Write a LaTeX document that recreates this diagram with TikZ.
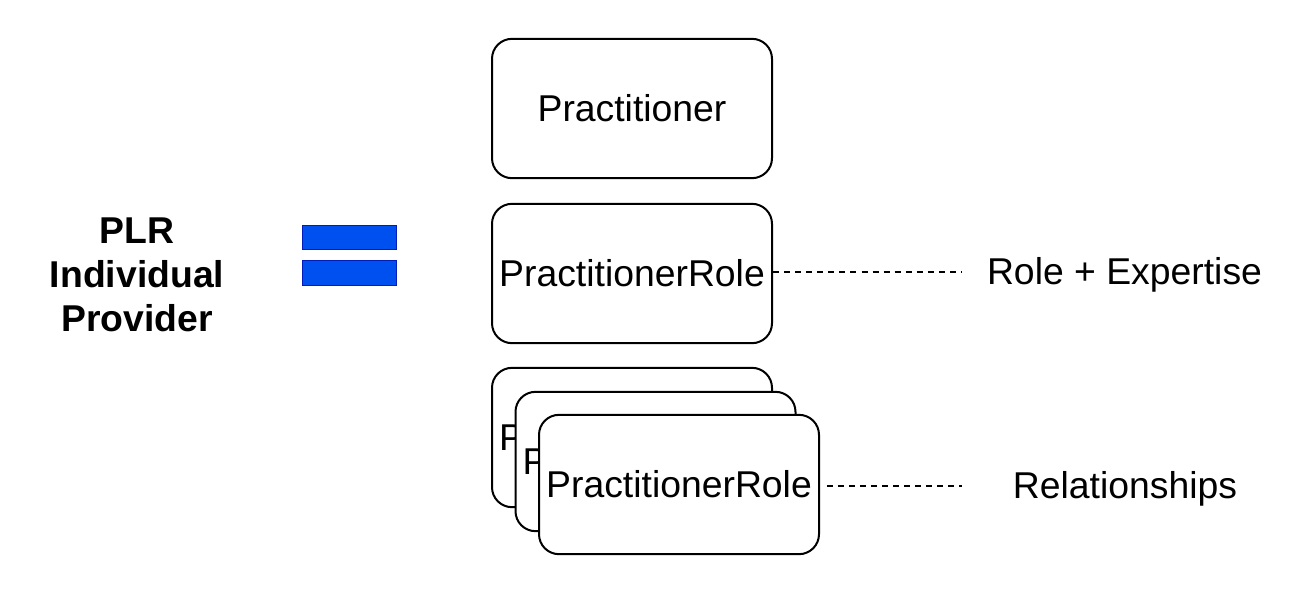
\documentclass[tikz,border=0pt]{standalone}
\usepackage{fontspec}
\setmainfont{Liberation Sans}
\begin{document}
\begin{tikzpicture}[x=0.75pt,y=-0.75pt,
  box/.style={draw=black,line width=1.5pt,fill=white,rounded corners=15pt,
    minimum width=210pt,minimum height=104.5pt,inner sep=0pt,
    font=\fontsize{28}{33}\selectfont},
  bar/.style={draw={rgb,255:red,0;green,29;blue,188},line width=0.9pt,
    fill={rgb,255:red,0;green,80;blue,239},minimum width=70.5pt,minimum height=18.2pt,inner sep=0pt},
  lbl/.style={font=\fontsize{28}{33}\selectfont,inner sep=0pt},
  link/.style={draw=black,line width=1.1pt,dash pattern=on 4.5pt off 3.8pt}]
\useasboundingbox (0,0) rectangle (1291,590);
\node[font=\bfseries\fontsize{28}{33}\selectfont,align=center,inner sep=0pt] (plr) at (137,275) {PLR\\Individual\\Provider};
\node[bar] (eq1) at (349.5,237.5) {};
\node[bar] (eq2) at (349.5,273) {};
\node[box] (prac) at (632,108.5) {Practitioner};
\node[box] (role) at (632,273.5) {PractitionerRole};
\node[box] (r1) at (632,437.5) {PractitionerRole};
\node[box] (r2) at (655.5,461.5) {PractitionerRole};
\node[box] (r3) at (679,484.5) {PractitionerRole};
\coordinate (e1) at (962,272);
\coordinate (e2) at (962,486);
\draw[link] (role.east |- e1) -- (e1);
\draw[link,shorten <=5pt] (r3.east |- e2) -- (e2);
\node[lbl] (t1) at (1124.5,275) {Role + Expertise};
\node[lbl] (t2) at (1125,489) {Relationships};
\end{tikzpicture}
\end{document}
